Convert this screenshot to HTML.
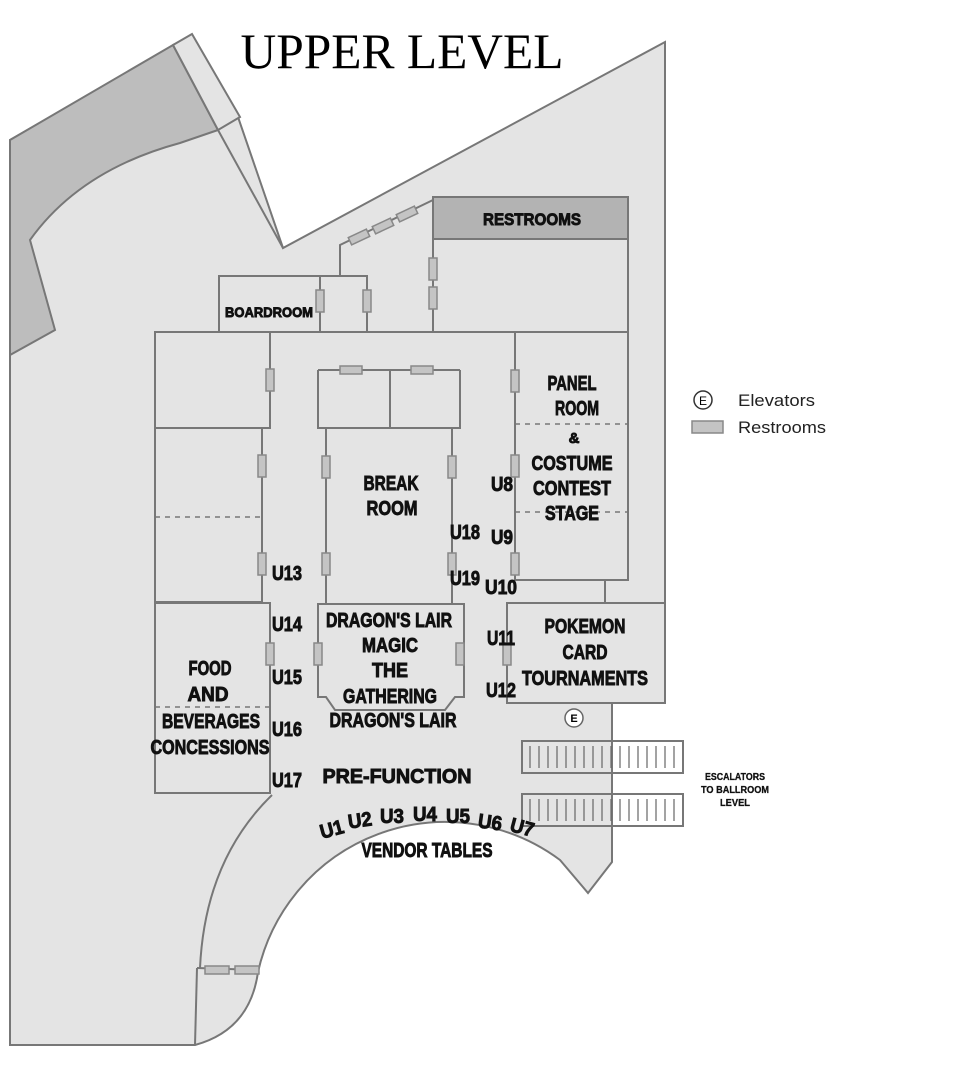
<!DOCTYPE html>
<html><head><meta charset="utf-8"><style>
html,body{margin:0;padding:0;background:#fff}
svg{display:block}
.l{font-family:"Liberation Sans",sans-serif;font-weight:bold;fill:#111;text-anchor:middle;stroke:#111;stroke-width:0.9}
</style></head><body>
<svg width="978" height="1076" viewBox="0 0 978 1076" xmlns="http://www.w3.org/2000/svg">
<path d="M10,140 L185,40 L238,117 L283,248 L665,42 L665,603 L665,703 L612,703 L612,862 L588,893 L560,860 A192,192 0 0 0 258,972 Q250,1030 195,1045 L10,1045 Z" fill="#e4e4e4" stroke="#777" stroke-width="2"/>
<path d="M10,140 L173,45 L218,130 L180,143 Q80,170 30,240 L55,330 L10,355 Z" fill="#bdbdbd" stroke="#777" stroke-width="2"/>
<path d="M173,45 L192,34 L240,117 L218,130 Z" fill="#e4e4e4" stroke="#777" stroke-width="2"/>
<line x1="218" y1="130" x2="283" y2="248" stroke="#777" stroke-width="2"/>
<path d="M200,968 Q205,860 272,795" fill="none" stroke="#777" stroke-width="2"/>
<line x1="197" y1="968" x2="258" y2="970" stroke="#777" stroke-width="2"/>
<line x1="197" y1="968" x2="195" y2="1045" stroke="#777" stroke-width="2"/>
<g fill="#c4c4c4" stroke="#888" stroke-width="1.5">
<rect x="205" y="966" width="24" height="8"/><rect x="235" y="966" width="24" height="8"/>
</g>
<g fill="none" stroke="#777" stroke-width="2">
<path d="M340,276 L340,245 L433,200"/>
<rect x="433" y="197" width="195" height="42" fill="#b3b3b3"/>
<rect x="433" y="239" width="195" height="93" fill="#e4e4e4"/>
<rect x="219" y="276" width="101" height="56"/>
<rect x="320" y="276" width="47" height="56"/>
<path d="M155,602 L155,332 L433,332"/>
<path d="M270,332 L270,428 L155,428"/>
<path d="M262,428 L262,602 L155,602"/>
<path d="M318,370 L460,370 M318,370 L318,428 L460,428 L460,370 M390,370 L390,428"/>
<path d="M326,428 L326,604 M452,428 L452,604"/>
<path d="M515,332 L628,332 L628,580 L515,580 L515,332"/>
<line x1="605" y1="580" x2="605" y2="603"/>
<path d="M318,604 L464,604 L464,697 L455,697 L445,710 L335,710 L326,697 L318,697 Z"/>
<path d="M155,603 L270,603 L270,793 L155,793 Z"/>
<path d="M507,603 L665,603 L665,703 L507,703 Z"/>
<rect x="522" y="741" width="161" height="32"/>
<rect x="522" y="794" width="161" height="32"/>
</g>
<g stroke="#777" stroke-width="1.5" stroke-dasharray="5,5">
<line x1="155" y1="517" x2="262" y2="517"/>
<line x1="515" y1="424" x2="628" y2="424"/>
<line x1="515" y1="512" x2="628" y2="512"/>
<line x1="155" y1="707" x2="270" y2="707"/>
</g>
<g stroke="#666" stroke-width="1.2">
<path d="M530,746V768M539,746V768M548,746V768M557,746V768M566,746V768M575,746V768M584,746V768M593,746V768M602,746V768M611,746V768M620,746V768M629,746V768M638,746V768M647,746V768M656,746V768M665,746V768M674,746V768"/>
<path d="M530,799V821M539,799V821M548,799V821M557,799V821M566,799V821M575,799V821M584,799V821M593,799V821M602,799V821M611,799V821M620,799V821M629,799V821M638,799V821M647,799V821M656,799V821M665,799V821M674,799V821"/>
</g>
<g fill="#c4c4c4" stroke="#888" stroke-width="1.5">
<rect x="349" y="233" width="20" height="8" transform="rotate(-25 359 237)"/>
<rect x="373" y="222" width="20" height="8" transform="rotate(-25 383 226)"/>
<rect x="397" y="210" width="20" height="8" transform="rotate(-25 407 214)"/>
<rect x="316" y="290" width="8" height="22"/><rect x="363" y="290" width="8" height="22"/>
<rect x="429" y="258" width="8" height="22"/><rect x="429" y="287" width="8" height="22"/>
<rect x="266" y="369" width="8" height="22"/>
<rect x="340" y="366" width="22" height="8"/><rect x="411" y="366" width="22" height="8"/>
<rect x="511" y="370" width="8" height="22"/>
<rect x="258" y="455" width="8" height="22"/><rect x="258" y="553" width="8" height="22"/>
<rect x="322" y="456" width="8" height="22"/><rect x="322" y="553" width="8" height="22"/>
<rect x="448" y="456" width="8" height="22"/><rect x="448" y="553" width="8" height="22"/>
<rect x="511" y="455" width="8" height="22"/><rect x="511" y="553" width="8" height="22"/>
<rect x="266" y="643" width="8" height="22"/>
<rect x="314" y="643" width="8" height="22"/><rect x="456" y="643" width="8" height="22"/>
<rect x="503" y="643" width="8" height="22"/>
<rect x="692" y="421" width="31" height="12"/>
</g>
<circle cx="574" cy="718" r="9" fill="#fff" stroke="#666" stroke-width="1.5"/>
<text x="574" y="722" font-family="Liberation Sans" font-size="11" font-weight="bold" text-anchor="middle">E</text>
<circle cx="703" cy="400" r="9" fill="#fff" stroke="#333" stroke-width="1.5"/>
<text x="703" y="405" font-family="Liberation Sans" font-size="12" text-anchor="middle">E</text>
<text x="738" y="406" font-family="Liberation Sans" font-size="17" fill="#222" textLength="77" lengthAdjust="spacingAndGlyphs">Elevators</text>
<text x="738" y="433" font-family="Liberation Sans" font-size="17" fill="#222" textLength="88" lengthAdjust="spacingAndGlyphs">Restrooms</text>
<text x="402" y="68" font-family="Liberation Serif" font-size="50" text-anchor="middle" textLength="323" lengthAdjust="spacingAndGlyphs">UPPER LEVEL</text>
<g class="l" font-size="20">
<text x="532" y="225" font-size="17" textLength="98" lengthAdjust="spacingAndGlyphs">RESTROOMS</text>
<text x="269" y="317" font-size="14" textLength="88" lengthAdjust="spacingAndGlyphs">BOARDROOM</text>
<text x="572" y="390" textLength="49" lengthAdjust="spacingAndGlyphs">PANEL</text>
<text x="577" y="415" textLength="44" lengthAdjust="spacingAndGlyphs">ROOM</text>
<text x="574" y="443" font-size="15">&amp;</text>
<text x="572" y="470" textLength="81" lengthAdjust="spacingAndGlyphs">COSTUME</text>
<text x="572" y="495" textLength="78" lengthAdjust="spacingAndGlyphs">CONTEST</text>
<text x="572" y="520" textLength="54" lengthAdjust="spacingAndGlyphs">STAGE</text>
<text x="391" y="490" textLength="55" lengthAdjust="spacingAndGlyphs">BREAK</text>
<text x="392" y="515" textLength="51" lengthAdjust="spacingAndGlyphs">ROOM</text>
<text x="502" y="491" textLength="22" lengthAdjust="spacingAndGlyphs">U8</text>
<text x="465" y="539" textLength="30" lengthAdjust="spacingAndGlyphs">U18</text>
<text x="502" y="544" textLength="22" lengthAdjust="spacingAndGlyphs">U9</text>
<text x="465" y="585" textLength="30" lengthAdjust="spacingAndGlyphs">U19</text>
<text x="501" y="594" textLength="32" lengthAdjust="spacingAndGlyphs">U10</text>
<text x="287" y="580" textLength="30" lengthAdjust="spacingAndGlyphs">U13</text>
<text x="287" y="631" textLength="30" lengthAdjust="spacingAndGlyphs">U14</text>
<text x="287" y="684" textLength="30" lengthAdjust="spacingAndGlyphs">U15</text>
<text x="287" y="736" textLength="30" lengthAdjust="spacingAndGlyphs">U16</text>
<text x="287" y="787" textLength="30" lengthAdjust="spacingAndGlyphs">U17</text>
<text x="501" y="645" textLength="28" lengthAdjust="spacingAndGlyphs">U11</text>
<text x="501" y="697" textLength="30" lengthAdjust="spacingAndGlyphs">U12</text>
<text x="389" y="627" textLength="126" lengthAdjust="spacingAndGlyphs">DRAGON'S LAIR</text>
<text x="390" y="652" textLength="56" lengthAdjust="spacingAndGlyphs">MAGIC</text>
<text x="390" y="677" textLength="36" lengthAdjust="spacingAndGlyphs">THE</text>
<text x="390" y="703" textLength="94" lengthAdjust="spacingAndGlyphs">GATHERING</text>
<text x="393" y="727" textLength="127" lengthAdjust="spacingAndGlyphs">DRAGON'S LAIR</text>
<text x="585" y="633" textLength="81" lengthAdjust="spacingAndGlyphs">POKEMON</text>
<text x="585" y="659" textLength="45" lengthAdjust="spacingAndGlyphs">CARD</text>
<text x="585" y="685" textLength="126" lengthAdjust="spacingAndGlyphs">TOURNAMENTS</text>
<text x="210" y="675" textLength="43" lengthAdjust="spacingAndGlyphs">FOOD</text>
<text x="208" y="701" textLength="41" lengthAdjust="spacingAndGlyphs">AND</text>
<text x="211" y="728" textLength="98" lengthAdjust="spacingAndGlyphs">BEVERAGES</text>
<text x="210" y="754" textLength="119" lengthAdjust="spacingAndGlyphs">CONCESSIONS</text>
<text x="397" y="783" textLength="149" lengthAdjust="spacingAndGlyphs">PRE-FUNCTION</text>
<text x="427" y="857" textLength="131" lengthAdjust="spacingAndGlyphs">VENDOR TABLES</text>
<text x="332" y="836" transform="rotate(-15 332 830)" textLength="24" lengthAdjust="spacingAndGlyphs">U1</text>
<text x="360" y="827" transform="rotate(-8 360 821)" textLength="24" lengthAdjust="spacingAndGlyphs">U2</text>
<text x="392" y="823" textLength="24" lengthAdjust="spacingAndGlyphs">U3</text>
<text x="425" y="821" textLength="24" lengthAdjust="spacingAndGlyphs">U4</text>
<text x="458" y="823" textLength="24" lengthAdjust="spacingAndGlyphs">U5</text>
<text x="490" y="829" transform="rotate(8 490 823)" textLength="24" lengthAdjust="spacingAndGlyphs">U6</text>
<text x="522" y="834" transform="rotate(15 522 828)" textLength="24" lengthAdjust="spacingAndGlyphs">U7</text>
<text x="735" y="780" font-size="10" stroke-width="0.3" textLength="60" lengthAdjust="spacingAndGlyphs">ESCALATORS</text>
<text x="735" y="793" font-size="10" stroke-width="0.3" textLength="68" lengthAdjust="spacingAndGlyphs">TO BALLROOM</text>
<text x="735" y="806" font-size="10" stroke-width="0.3" textLength="30" lengthAdjust="spacingAndGlyphs">LEVEL</text>
</g>
</svg>
</body></html>
